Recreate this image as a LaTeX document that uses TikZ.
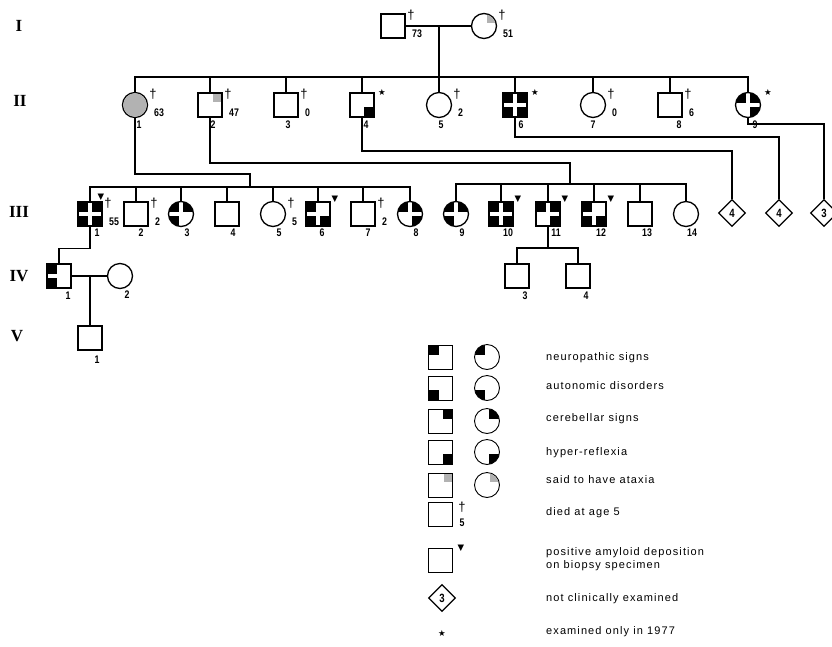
\documentclass[tikz,border=0pt]{standalone}
\usepackage{fontspec}
\setmainfont{Liberation Sans}
\newfontfamily\numfont[FakeStretch=0.8]{Liberation Sans}
\newfontfamily\genfont{Liberation Serif}
\newfontfamily\symfont{DejaVu Sans}
\newfontfamily\legfont[LetterSpace=10]{Liberation Sans}
\usetikzlibrary{shapes.geometric}

\tikzset{
  mal/.style={draw, rectangle, line width=1.3pt, minimum size=24pt, inner sep=0pt},
  fem/.style={draw, circle, line width=1.3pt, minimum size=25pt, inner sep=0pt},
  unk/.style={draw, diamond, line width=1.3pt, minimum size=27pt, inner sep=0pt,
    font=\numfont\bfseries\fontsize{12}{12}\selectfont},
  idl/.style={font=\numfont\bfseries\fontsize{11}{11}\selectfont, inner sep=0pt},
  gen/.style={font=\genfont\bfseries\fontsize{17}{17}\selectfont, inner sep=0pt},
  leg/.style={font=\legfont\fontsize{11}{13}\selectfont, anchor=west, inner sep=0pt, align=left},
  sym/.style={font=\symfont\fontsize{8.5}{8.5}\selectfont, inner sep=0pt},
  kin/.style={line width=1.2pt},
  legbox/.style={line width=0.9pt},
}

% black quadrants: sx/sy = -1/-1 top left, 1/-1 top right, -1/1 bottom left, 1/1 bottom right
\newcommand\sqq[2]{\begin{scope}[shift={(#1.center)}]
  \foreach \sx/\sy in {#2} \fill (2*\sx,2*\sy) rectangle (12*\sx,12*\sy);
\end{scope}}
\newcommand\ciq[2]{\begin{scope}[shift={(#1.center)}]
  \clip (0,0) circle (12.4pt);
  \foreach \sx/\sy in {#2} \fill (2*\sx,2*\sy) rectangle (13*\sx,13*\sy);
\end{scope}}
% stippled corner (said to have ataxia)
\newcommand\atxsq[1]{\fill[black!30] ([shift={(3,-3)}]#1.center) rectangle ([shift={(11.3,-11.3)}]#1.center);}
\newcommand\atxci[1]{\begin{scope}[shift={(#1.center)}]
  \clip (0,0) circle (11.8pt);
  \fill[black!30] (3,-3) rectangle (13,-13);
\end{scope}}
% died, with age
\newcommand\dead[2]{%
  \node[font=\fontsize{13}{13}\selectfont, inner sep=0pt] (#1-d) at ([shift={(18,-11)}]#1.center) {†};
  \node[idl, anchor=west] (#1-a) at ([shift={(19,8)}]#1.center) {#2};}
\newcommand\amyl[1]{\node[sym] (#1-t) at ([shift={(17,-15)}]#1.center) {▼};}
\newcommand\exam[1]{\node[sym] (#1-s) at ([shift={(20,-13)}]#1.center) {★};}

\begin{document}
\begin{tikzpicture}[x=1pt, y=-1pt]
  \useasboundingbox (0,0) rectangle (832,646);

  % generations
  \node[gen] (g1) at (19,26) {I};
  \node[gen] (g2) at (20,101) {II};
  \node[gen] (g3) at (19,212) {III};
  \node[gen] (g4) at (19,276) {IV};
  \node[gen] (g5) at (17,336) {V};

  % I
  \node[mal] (I1) at (393,26) {};
  \node[fem] (I2) at (484,26) {};
  \atxci{I2}
  \draw[kin] (I1) -- (I2);
  \coordinate (m1) at (439,26);
  \dead{I1}{73}
  \dead{I2}{51}

  % II
  \foreach \n/\x/\s/\d in {1/135/fem/4, 2/210/mal/3, 3/286/mal/2, 4/362/mal/4, 5/439/fem/2,
                           6/515/mal/6, 7/593/fem/0, 8/670/mal/9, 9/748/fem/7}{
    \node[\s] (II\n) at (\x,105) {};
    \node[idl] (II\n-n) at (\x+\d,125) {\n};
  }
  \coordinate (sib2) at (439,77);
  \draw[kin] (m1) -- (sib2);
  \draw[kin] (II1.north) |- (sib2) -| (II9.north);
  \foreach \n in {2,...,8} \draw[kin] (II\n.north) -- (II\n.north |- sib2);

  \begin{scope}[shift={(II1.center)}]
    \clip (0,0) circle (11.8pt);
    \fill[black!30] (-13,-13) rectangle (13,13);
  \end{scope}
  \atxsq{II2}
  \sqq{II4}{1/1}
  \sqq{II6}{-1/-1,1/-1,-1/1,1/1}
  \ciq{II9}{-1/-1,1/-1,1/1}
  \dead{II1}{63}
  \dead{II2}{47}
  \dead{II3}{0}
  \dead{II5}{2}
  \dead{II7}{0}
  \dead{II8}{6}
  \exam{II4}
  \exam{II6}
  \exam{II9}

  % III
  \foreach \n/\x/\s/\d in {1/90/mal/7, 2/136/mal/5, 3/181/fem/6, 4/227/mal/6, 5/273/fem/6,
                           6/318/mal/4, 7/363/mal/5, 8/410/fem/6, 9/456/fem/6, 10/501/mal/7,
                           11/548/mal/8, 12/594/mal/7, 13/640/mal/7, 14/686/fem/6}{
    \node[\s] (III\n) at (\x,214) {};
    \node[idl] (III\n-n) at (\x+\d,233) {\n};
  }
  \node[unk] (D1) at (732,213) {4};
  \node[unk] (D2) at (779,213) {4};
  \node[unk] (D3) at (824,213) {3};

  \coordinate (jA) at (250,174);
  \coordinate (sibA) at (250,187);
  \draw[kin] (II1.south) |- (jA) -- (sibA);
  \draw[kin] (III1.north) |- (sibA) -| (III8.north);
  \foreach \n in {2,...,7} \draw[kin] (III\n.north) -- (III\n.north |- sibA);

  \coordinate (jB) at (570,163);
  \coordinate (sibB) at (570,184);
  \draw[kin] (II2.south) |- (jB) -- (sibB);
  \draw[kin] (III9.north) |- (sibB) -| (III14.north);
  \foreach \n in {10,...,13} \draw[kin] (III\n.north) -- (III\n.north |- sibB);

  \coordinate (k4) at (732,151);
  \coordinate (k6) at (779,137);
  \coordinate (k9) at (824,124);
  \draw[kin] (II4.south) |- (k4) -- (D1.north);
  \draw[kin] (II6.south) |- (k6) -- (D2.north);
  \draw[kin] (II9.south) |- (k9) -- (D3.north);

  \sqq{III1}{-1/-1,1/-1,-1/1,1/1}
  \ciq{III3}{-1/-1,1/-1,-1/1}
  \sqq{III6}{-1/-1,-1/1,1/1}
  \ciq{III8}{-1/-1,1/-1,1/1}
  \ciq{III9}{-1/-1,1/-1,-1/1}
  \sqq{III10}{-1/-1,1/-1,-1/1,1/1}
  \sqq{III11}{-1/-1,1/-1,1/1}
  \sqq{III12}{-1/-1,-1/1,1/1}
  \dead{III1}{55}
  \dead{III2}{2}
  \dead{III5}{5}
  \dead{III7}{2}
  \node[sym] (III1-t) at (101,197) {▼};
  \amyl{III6}
  \amyl{III10}
  \amyl{III11}
  \amyl{III12}

  % IV and V
  \node[mal] (IV1) at (59,276) {};
  \node[fem] (IV2) at (120,276) {};
  \node[mal] (IV3) at (517,276) {};
  \node[mal] (IV4) at (578,276) {};
  \node[idl] (IV1-n) at (68,296) {1};
  \node[idl] (IV2-n) at (127,295) {2};
  \node[idl] (IV3-n) at (525,296) {3};
  \node[idl] (IV4-n) at (586,296) {4};
  \sqq{IV1}{-1/-1,-1/1}
  \draw[kin] (III1.south) -- ++(0,22) -| (IV1.north);
  \draw[kin] (IV1) -- (IV2);
  \coordinate (m4) at (90,276);
  \coordinate (sibC) at (548,248);
  \draw[kin] (III11.south) -- (sibC);
  \draw[kin] (IV3.north) |- (sibC) -| (IV4.north);

  \node[mal] (V1) at (90,338) {};
  \node[idl] (V1-n) at (97,360) {1};
  \draw[kin] (m4) -- (V1.north);

  % legend
  \foreach \r/\y in {1/357, 2/388, 3/421, 4/452, 5/485}{
    \node[mal, legbox] (L\r s) at (440.5,\y) {};
    \node[fem, legbox] (L\r c) at (487,\y) {};
  }
  \sqq{L1s}{-1/-1}  \ciq{L1c}{-1/-1}
  \sqq{L2s}{-1/1}   \ciq{L2c}{-1/1}
  \sqq{L3s}{1/-1}   \ciq{L3c}{1/-1}
  \sqq{L4s}{1/1}    \ciq{L4c}{1/1}
  \atxsq{L5s}       \atxci{L5c}
  \node[mal, legbox] (L6s) at (440.5,514) {};
  \node[font=\fontsize{13}{13}\selectfont, inner sep=0pt] (L6d) at (462,507) {†};
  \node[idl] (L6a) at (462,523) {5};
  \node[mal, legbox] (L7s) at (440.5,560) {};
  \node[sym] (L7t) at (461,548) {▼};
  \node[unk] (L8d) at (442,598) {3};
  \node[sym] (L9s) at (442,633) {★};

  \node[leg] (L1t) at (546,358) {neuropathic signs};
  \node[leg] (L2t) at (546,386) {autonomic disorders};
  \node[leg] (L3t) at (546,419) {cerebellar signs};
  \node[leg] (L4t) at (546,453) {hyper-reflexia};
  \node[leg] (L5t) at (546,480) {said to have ataxia};
  \node[leg] (L6t) at (546,513) {died at age 5};
  \node[leg] (L7t) at (546,559) {positive amyloid deposition\\on biopsy specimen};
  \node[leg] (L8t) at (546,599) {not clinically examined};
  \node[leg] (L9t) at (546,632) {examined only in 1977};
\end{tikzpicture}
\end{document}
